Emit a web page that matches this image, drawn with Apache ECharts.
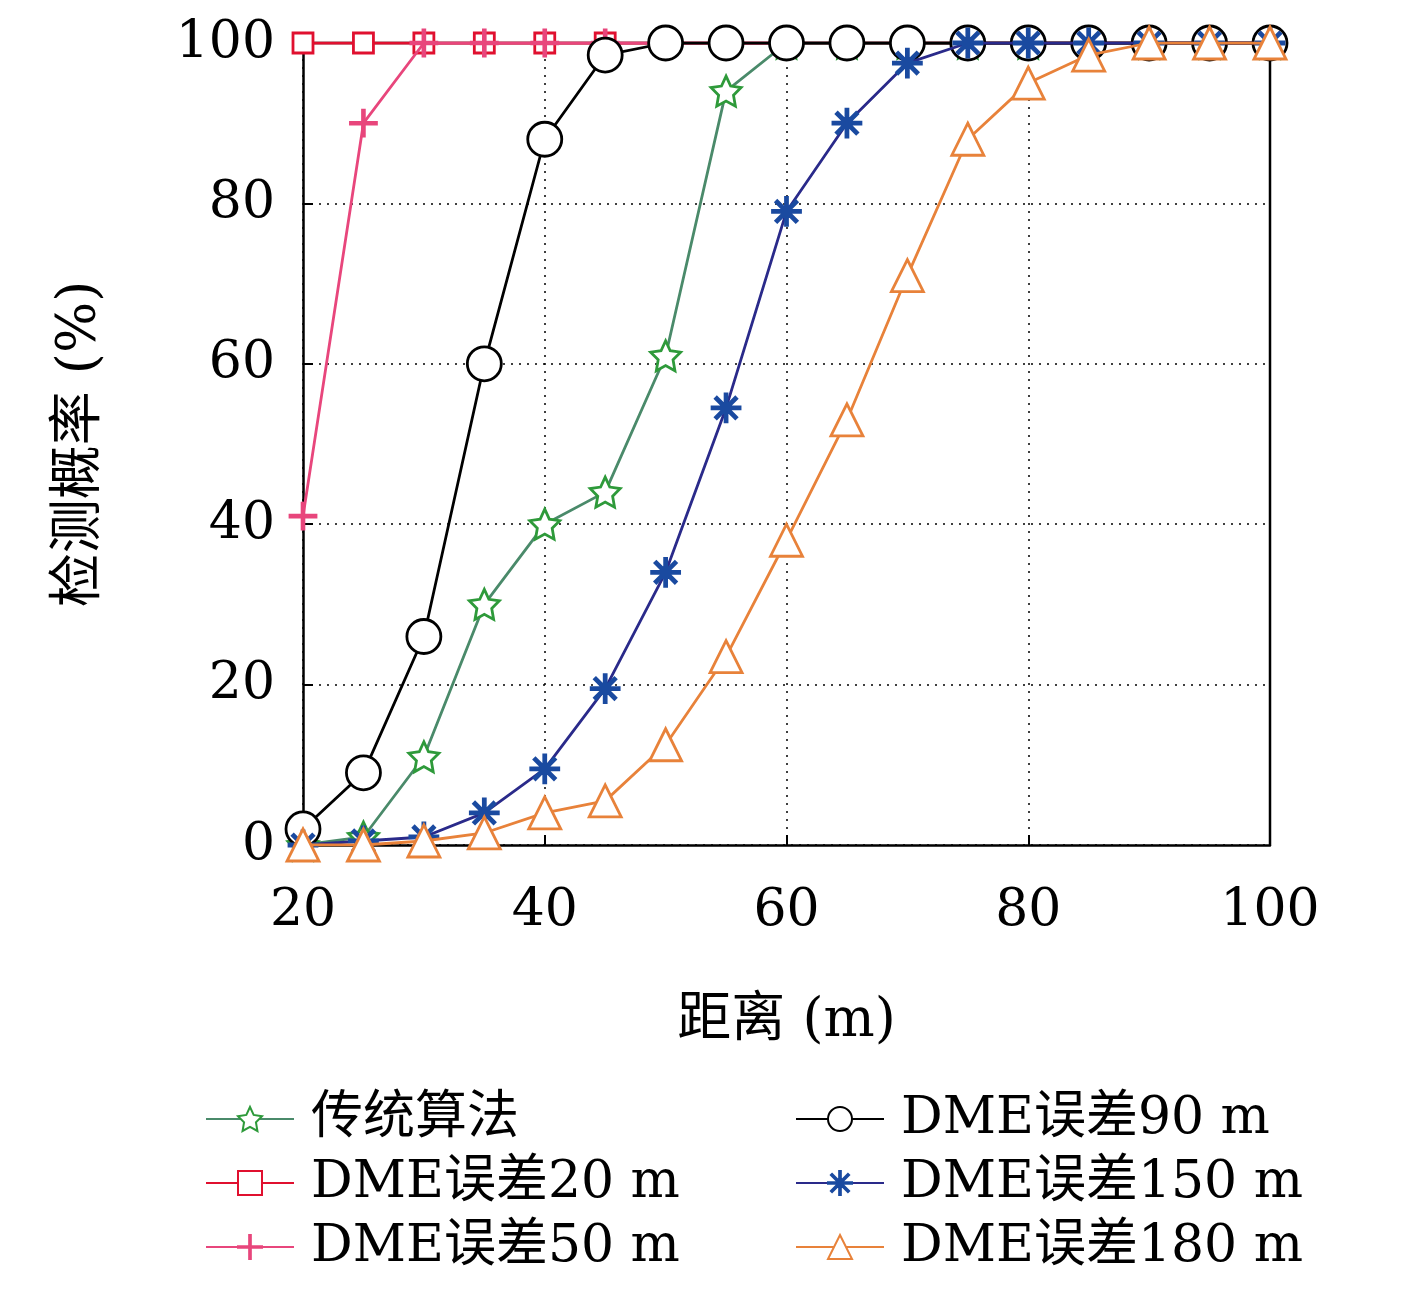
<!DOCTYPE html>
<html><head><meta charset="utf-8">
<script src="https://cdn.jsdelivr.net/npm/echarts@6/dist/echarts.min.js"></script>
<style>html,body{margin:0;padding:0;background:#fff}#c{width:1417px;height:1311px}</style>
</head><body><div id="c"></div>
<script>
const xs = [20,25,30,35,40,45,50,55,60,65,70,75,80,85,90,95,100];
const names = ['传统算法','DME误差20 m','DME误差50 m','DME误差90 m','DME误差150 m','DME误差180 m'];
const trad  = [0,1,11,30,40,44,61,94,100,100,100,100,100,100,100,100,100];
const d20   = [100,100,100,100,100,100,100,100,100,100,100,100,100,100,100,100,100];
const d50   = [41,90,100,100,100,100,100,100,100,100,100,100,100,100,100,100,100];
const d90   = [2,9,26,60,88,98.5,100,100,100,100,100,100,100,100,100,100,100];
const d150  = [0,0.5,1,4,9.5,19.5,34,54.5,79,90,97.5,100,100,100,100,100,100];
const d180  = [0,0,0.5,1.5,4,5.5,12.5,23.5,38,53,71,88,95,98.5,100,100,100];

const FONT = '"DejaVu Serif","Liberation Serif","Noto Sans CJK SC",serif';
const star = 'path://M0,-10 L2.9,-4 9.5,-3.1 4.7,1.5 5.9,8.1 0,5 -5.9,8.1 -4.7,1.5 -9.5,-3.1 -2.9,-4Z';
const plus = 'path://M-0.7,-10H0.7V10H-0.7Z M-10,-0.7H10V0.7H-10Z';
const aster = 'path://M-0.7,-10H0.7V10H-0.7Z M-10,-0.7H10V0.7H-10Z M-7.6,-6.6L6.6,7.6 7.6,6.6 -6.6,-7.6Z M-7.6,6.6L6.6,-7.6 7.6,-6.6 -6.6,7.6Z';
function pair(arr){return xs.map((x,i)=>[x,arr[i]]);}
function s(name, data, lineColor, mark, markColor, fill, size, z){
  return {name, type:'line', data:pair(data), symbol:mark, symbolSize:size, z,
    lineStyle:{color:lineColor,width:2.8},
    itemStyle:{color:fill, borderColor:markColor, borderWidth:2.8},
    emphasis:{disabled:true}};
}
const series = [
  s(names[1], d20, '#e0102f', 'rect', '#e0102f', '#fff', 20, 2),
  s(names[2], d50, '#e8467c', plus, '#e8467c', '#e8467c', 26, 3),
  s(names[0], trad, '#4a8a6a', star, '#2e9a3a', '#fff', 30, 4),
  s(names[3], d90, '#000', 'circle', '#000', '#fff', 34, 5),
  s(names[4], d150, '#2a2a8a', aster, '#1a4aa0', '#1a4aa0', 28, 6),
  s(names[5], d180, '#e8823a', 'triangle', '#e8823a', '#fff', 32, 7),
];
const legText = {fontFamily:FONT, fontSize:52, color:'#000', padding:[0,0,0,12]};
const chart = echarts.init(document.getElementById('c'));
chart.setOption({
  animation:false,
  grid:{left:303,right:147,top:43,bottom:466},
  xAxis:{type:'value',min:20,max:100,interval:20,
    name:'距离 (m)',nameLocation:'middle',nameGap:150,nameTextStyle:{fontFamily:FONT,fontSize:54,color:'#000'},
    axisLine:{show:true,lineStyle:{color:'#000',width:2.5}},
    axisTick:{show:true,inside:true,length:10,lineStyle:{color:'#000',width:2}},
    axisLabel:{fontFamily:FONT,fontSize:52,color:'#000',margin:40},
    splitLine:{show:true,lineStyle:{color:'#000',type:[2,6],width:1.5}}},
  yAxis:{type:'value',min:0,max:100,interval:20,
    name:'检测概率 (%)',nameLocation:'middle',nameGap:195,nameTextStyle:{fontFamily:FONT,fontSize:54,color:'#000'},
    axisLine:{show:true,lineStyle:{color:'#000',width:2.5}},
    axisTick:{show:true,inside:true,length:10,lineStyle:{color:'#000',width:2}},
    axisLabel:{fontFamily:FONT,fontSize:52,color:'#000',margin:28},
    splitLine:{show:true,lineStyle:{color:'#000',type:[2,6],width:1.5}}},
  graphic:[
    {type:'line',shape:{x1:303,y1:43,x2:1270,y2:43},style:{stroke:'#000',lineWidth:2.5},z:1},
    {type:'line',shape:{x1:1270,y1:43,x2:1270,y2:845},style:{stroke:'#000',lineWidth:2.5},z:1}
  ],
  legend:[
    {data:[names[0],names[1],names[2]],orient:'vertical',left:200,top:1088,itemWidth:88,itemHeight:30,itemGap:12,textStyle:legText},
    {data:[names[3],names[4],names[5]],orient:'vertical',left:790,top:1088,itemWidth:88,itemHeight:30,itemGap:12,textStyle:legText}
  ],
  series
});
</script></body></html>
